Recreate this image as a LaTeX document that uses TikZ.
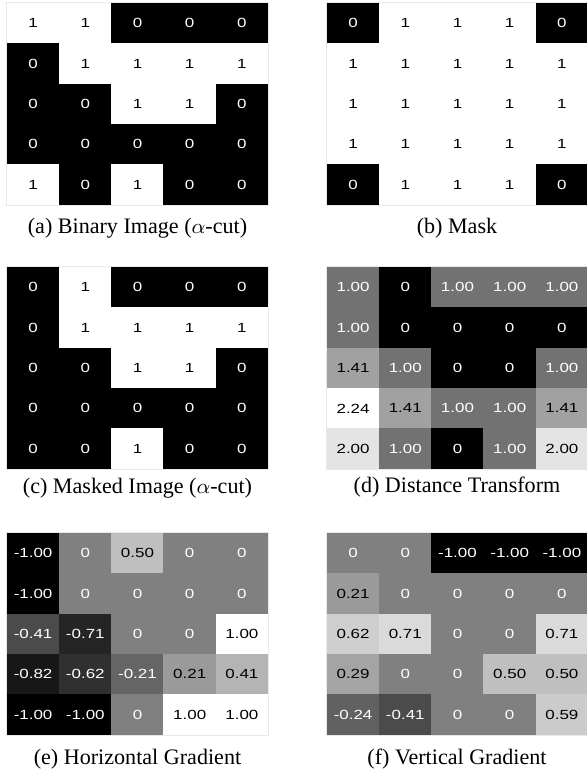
\documentclass[tikz,border=0pt]{standalone}
\usepackage{fontspec}
\setmainfont{Liberation Serif}
\newfontfamily\cellfont{Liberation Sans}
\usetikzlibrary{positioning}
\definecolor{gridframe}{HTML}{E8E8E8}

% one 5x5 grey-scale grid: name, left, top, low value, high value, rows
\newcommand{\heatgrid}[6]{%
  \foreach \row [count=\j] in {#6} {
    \foreach \v [count=\i] in \row {
      \pgfmathsetmacro\g{100*(\v-(#4))/((#5)-(#4))}
      \ifdim\g pt<55pt \def\tc{white}\else\def\tc{black}\fi
      \node[cell, fill=white!\g!black, text=\tc] (#1-\j-\i)
        at ({#2+(\i-0.5)*52.2},{#3+(\j-0.5)*40.4}) {\scalebox{1.28}[1]{\v}};
    }
  }
  \draw[gridframe, line width=0.6] (#2-0.5,#3-0.5) rectangle ++(262,203);
}

\begin{document}
\begin{tikzpicture}[x=0.43pt, y=-0.43pt,
  cell/.style={inner sep=0, minimum width=22.6pt, minimum height=17.5pt,
    font=\cellfont\fontsize{5.7}{6}\selectfont},
  caption/.style={inner sep=0, font=\fontsize{9.5}{11}\selectfont}]
  \useasboundingbox (0,0) rectangle (587,770);
  % top row
  \heatgrid{a}{7}{3}{0}{1}{{1,1,0,0,0},{0,1,1,1,1},{0,0,1,1,0},{0,0,0,0,0},{1,0,1,0,0}}
  \heatgrid{b}{327}{3}{0}{1}{{0,1,1,1,0},{1,1,1,1,1},{1,1,1,1,1},{1,1,1,1,1},{0,1,1,1,0}}
  \node[caption] (capa) at (137.5,228) {(a) Binary Image ($\alpha$-cut)};
  \node[caption] (capb) at (457,228) {(b) Mask};
  % middle row
  \heatgrid{c}{7}{267}{0}{1}{{0,1,0,0,0},{0,1,1,1,1},{0,0,1,1,0},{0,0,0,0,0},{0,0,1,0,0}}
  \heatgrid{d}{327}{267}{0}{2.24}{{1.00,0,1.00,1.00,1.00},{1.00,0,0,0,0},{1.41,1.00,0,0,1.00},{2.24,1.41,1.00,1.00,1.41},{2.00,1.00,0,1.00,2.00}}
  \node[caption] (capc) at (137.5,488) {(c) Masked Image ($\alpha$-cut)};
  \node[caption] (capd) at (457,487) {(d) Distance Transform};
  % bottom row
  \heatgrid{e}{7}{533}{-1}{1}{{-1.00,0,0.50,0,0},{-1.00,0,0,0,0},{-0.41,-0.71,0,0,1.00},{-0.82,-0.62,-0.21,0.21,0.41},{-1.00,-1.00,0,1.00,1.00}}
  \heatgrid{f}{327}{533}{-1}{1}{{0,0,-1.00,-1.00,-1.00},{0.21,0,0,0,0},{0.62,0.71,0,0,0.71},{0.29,0,0,0.50,0.50},{-0.24,-0.41,0,0,0.59}}
  \node[caption] (cape) at (137.5,759) {(e) Horizontal Gradient};
  \node[caption] (capf) at (457,759) {(f) Vertical Gradient};
\end{tikzpicture}
\end{document}
